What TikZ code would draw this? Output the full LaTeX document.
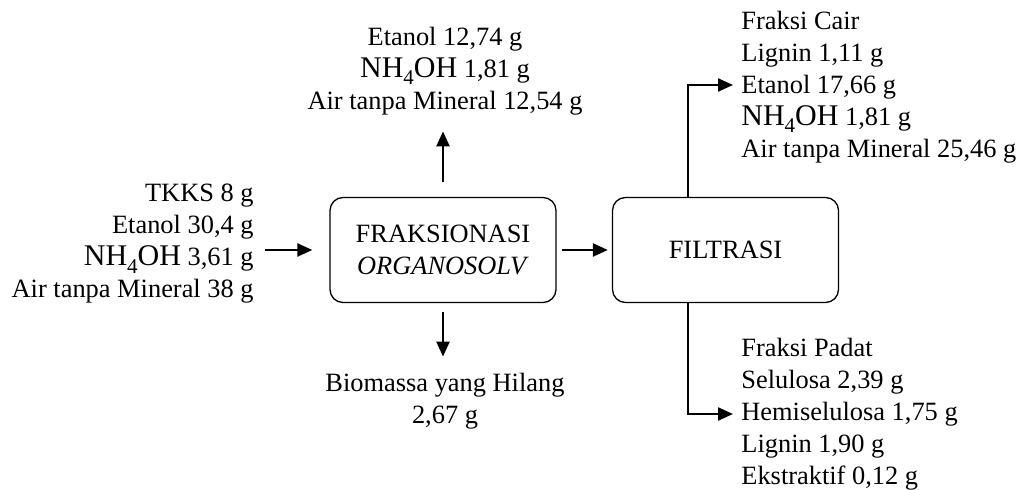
\documentclass[tikz,border=0pt]{standalone}
\usepackage{fontspec}
\setmainfont{Liberation Serif}
\usetikzlibrary{arrows.meta}

\newcommand{\nhoh}{{\fontsize{15}{16}\selectfont NH\raisebox{-0.55ex}{\fontsize{10.5}{11}\selectfont 4}OH}}

\tikzset{
  prosesbox/.style={draw, line width=0.65pt, rounded corners=6.5pt,
    minimum width=113pt, minimum height=52.5pt, align=center},
  teks/.style={inner sep=0pt},
  arr/.style={line width=1.15pt, -{Triangle[length=7.5pt,width=6.5pt]}}
}

\begin{document}
\begin{tikzpicture}[x=0.5pt,y=-0.5pt]
                    \fontsize{13.2}{16}\selectfont
                    \useasboundingbox (0,0) rectangle (1021,490);

                    % Marking box FRAKSIONASI
                    \node [prosesbox] (fraksionasi) at (443,250) {FRAKSIONASI\\\textit{ORGANOSOLV}};%

                    % Marking box FILTRASI
                    \node [prosesbox] (filtrasi) at (725.5,250) {FILTRASI};%

                    % Marking input
                    \node [teks, anchor=east, align=right] (masuk) at (254,244)
                      {TKKS 8 g\\Etanol 30,4 g\\\nhoh{} 3,61 g\\Air tanpa Mineral 38 g};%

                    % Marking top output
                    \node [teks, align=center] (atas) at (445,71)
                      {Etanol 12,74 g\\\nhoh{} 1,81 g\\Air tanpa Mineral 12,54 g};%

                    % Marking lost biomass
                    \node [teks, align=center] (hilang) at (445,401)
                      {Biomassa yang Hilang\\2,67 g};%

                    % Marking liquid fraction
                    \node [teks, anchor=west, align=left] (cair) at (741,87)
                      {Fraksi Cair\\Lignin 1,11 g\\Etanol 17,66 g\\\nhoh{} 1,81 g\\Air tanpa Mineral 25,46 g};%

                    % Marking solid fraction
                    \node [teks, anchor=west, align=left] (padat) at (741,414)
                      {Fraksi Padat\\Selulosa 2,39 g\\Hemiselulosa 1,75 g\\Lignin 1,90 g\\Ekstraktif 0,12 g};%

                    % Drawing arrows of FRAKSIONASI
                    \draw [arr, shorten <=5.5pt, shorten >=8.5pt] (masuk.east |- fraksionasi.west) -- (fraksionasi.west);%
                    \draw [arr, shorten <=7.5pt, shorten >=8pt] (fraksionasi.north) -- (fraksionasi.north |- atas.south);%
                    \draw [arr, shorten <=4.5pt, shorten >=8pt] (fraksionasi.south) -- (fraksionasi.south |- hilang.north);%
                    \draw [arr, shorten <=2.5pt, shorten >=2pt] (fraksionasi.east) -- (filtrasi.west);%

                    % Drawing arrows of FILTRASI
                    \draw [arr, shorten >=4pt] (filtrasi.north -| 688,0) |- (cair.west |- 0,85);%
                    \draw [arr, shorten >=4pt] (filtrasi.south -| 688,0) |- (padat.west |- 0,414);%
\end{tikzpicture}
\end{document}
